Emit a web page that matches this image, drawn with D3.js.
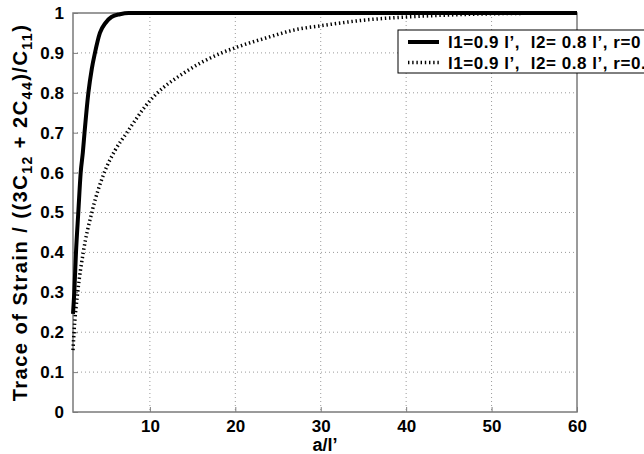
<!DOCTYPE html>
<html>
<head>
<meta charset="utf-8">
<script src="https://cdn.jsdelivr.net/npm/d3@7"></script>
<style>
  body { margin: 0; background: #fff; }
  text { font-family: "Liberation Sans", Arial, sans-serif; font-weight: bold; white-space: pre; }
</style>
</head>
<body>
<div id="chart"></div>
<script>
var W = 644;
var H = 454;

// r = 0 (solid)
var xSolid = [1, 1.15, 1.35, 1.62, 1.9, 2.15, 2.35, 2.8, 3.2, 3.57, 4.15, 4.8, 5.5, 6.5, 7.5, 10, 60];
var ySolid = [0.246, 0.3, 0.4, 0.5, 0.6, 0.65, 0.7, 0.8, 0.86, 0.9, 0.95, 0.975, 0.99, 0.997, 1, 1, 1];

// r = 0.5 (dotted)
var xDot = [1, 1.12, 1.55, 2.2, 3.2, 4.66, 5.9, 7.3, 10, 10.9, 14, 18.4, 20, 24, 27, 30, 35, 40, 45, 50, 60];
var yDot = [0.155, 0.2, 0.3, 0.4, 0.5, 0.6, 0.655, 0.7, 0.78, 0.8, 0.85, 0.9, 0.913, 0.94, 0.958, 0.968, 0.982, 0.99, 0.995, 0.998, 1];

var xTicks = [10, 20, 30, 40, 50, 60];
var yTicks = [0, 0.1, 0.2, 0.3, 0.4, 0.5, 0.6, 0.7, 0.8, 0.9, 1];
var legendLabels = ["l1=0.9 l\u2019,  l2= 0.8 l\u2019, r=0", "l1=0.9 l\u2019,  l2= 0.8 l\u2019, r=0.5"];

var pLeft = 73, pTop = 13, pRight = 577, pBottom = 412;

var x = d3.scaleLinear().domain([1, 60]).range([pLeft, pRight]);
var y = d3.scaleLinear().domain([0, 1]).range([pBottom, pTop]);

var svg = d3.select("#chart").append("svg")
    .attr("width", W)
    .attr("height", H);

// grid
svg.append("g").selectAll("line")
    .data(xTicks.filter(function(d) { return d < 60; }))
    .enter().append("line")
    .attr("x1", function(d) { return x(d); })
    .attr("x2", function(d) { return x(d); })
    .attr("y1", pTop).attr("y2", pBottom)
    .attr("stroke", "#9a9a9a")
    .attr("stroke-dasharray", "1,3");

svg.append("g").selectAll("line")
    .data(yTicks.filter(function(d) { return d > 0 && d < 1; }))
    .enter().append("line")
    .attr("y1", function(d) { return y(d); })
    .attr("y2", function(d) { return y(d); })
    .attr("x1", pLeft).attr("x2", pRight)
    .attr("stroke", "#9a9a9a")
    .attr("stroke-dasharray", "1,3");

// axes
var xAxis = svg.append("g")
    .attr("transform", "translate(0," + pBottom + ")")
    .call(d3.axisBottom(x).tickValues(xTicks).tickSize(-5).tickPadding(8).tickFormat(d3.format("d")));
var yAxis = svg.append("g")
    .attr("transform", "translate(" + pLeft + ",0)")
    .call(d3.axisLeft(y).tickValues(yTicks).tickSize(-5).tickPadding(9).tickFormat(function(d) { return String(d); }));

[xAxis, yAxis].forEach(function(a) {
    a.select(".domain").remove();
    a.selectAll(".tick line").attr("stroke", "#808080");
    a.selectAll("text").attr("font-size", 17).attr("fill", "#000")
        .style("font-family", "'Liberation Sans', Arial, sans-serif").style("font-weight", "bold");
});

// box
svg.append("rect")
    .attr("x", pLeft).attr("y", pTop)
    .attr("width", pRight - pLeft).attr("height", pBottom - pTop)
    .attr("fill", "none")
    .attr("stroke", "#7a7a7a")
    .attr("stroke-width", 1.5);

// curves
var line = d3.line()
    .x(function(d) { return x(d[0]); })
    .y(function(d) { return y(d[1]); })
    .curve(d3.curveMonotoneX);

svg.append("path")
    .datum(d3.zip(xDot, yDot))
    .attr("d", line)
    .attr("fill", "none")
    .attr("stroke", "#000")
    .attr("stroke-width", 3.5)
    .attr("stroke-dasharray", "1.4,2.8");

svg.append("path")
    .datum(d3.zip(xSolid, ySolid))
    .attr("d", line)
    .attr("fill", "none")
    .attr("stroke", "#000")
    .attr("stroke-width", 4);

// axis titles
svg.append("text")
    .attr("x", (pLeft + pRight) / 2)
    .attr("y", 451)
    .attr("text-anchor", "middle")
    .attr("font-size", 18)
    .text("a/l\u2019");

var yl = svg.append("text")
    .attr("transform", "translate(27," + ((pTop + pBottom) / 2) + ") rotate(-90)")
    .attr("text-anchor", "middle")
    .attr("font-size", 20)
    .attr("letter-spacing", 1.5);
yl.append("tspan").text("Trace of Strain / ((3C");
yl.append("tspan").attr("font-size", 14).attr("dy", 5).text("12");
yl.append("tspan").attr("dy", -5).text(" + 2C");
yl.append("tspan").attr("font-size", 14).attr("dy", 5).text("44");
yl.append("tspan").attr("dy", -5).text(")/C");
yl.append("tspan").attr("font-size", 14).attr("dy", 5).text("11");
yl.append("tspan").attr("dy", -5).text(")");

// legend
var lg = svg.append("g");
lg.append("rect")
    .attr("x", 398).attr("y", 30)
    .attr("width", 270).attr("height", 43)
    .attr("fill", "#fff")
    .attr("stroke", "#000");

var rows = [{ dash: null, w: 4 }, { dash: "1.4,2.8", w: 3.5 }];
rows.forEach(function(r, i) {
    var cy = 42 + i * 20.5;
    lg.append("line")
        .attr("x1", 408).attr("x2", 439)
        .attr("y1", cy).attr("y2", cy)
        .attr("stroke", "#000")
        .attr("stroke-width", r.w)
        .attr("stroke-dasharray", r.dash);
    lg.append("text")
        .attr("x", 448).attr("y", cy + 6)
        .attr("font-size", 17)
        .attr("letter-spacing", 0.55)
        .text(legendLabels[i]);
});
</script>
</body>
</html>
